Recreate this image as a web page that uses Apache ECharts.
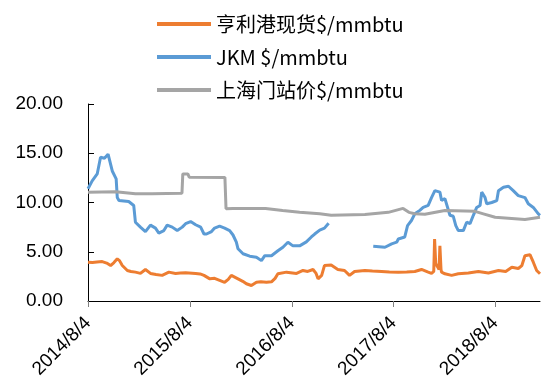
<!DOCTYPE html>
<html><head><meta charset="utf-8">
<script src="https://cdn.jsdelivr.net/npm/echarts@6/dist/echarts.min.js"></script>
<style>html,body{margin:0;padding:0;background:#fff}#c{width:542px;height:385px}</style>
</head><body><div id="c"></div>
<script>
const seriesNames = ['亨利港现货$/mmbtu', 'JKM $/mmbtu', '上海门站价$/mmbtu'];
const xTickLabels = ['2014/8/4', '2015/8/4', '2016/8/4', '2017/8/4', '2018/8/4'];
const xStart = '2014-08-04';
const xEnd = '2019-01-11';
const yTicks = [0, 5, 10, 15, 20];

const henryDates = ['2014-08-04','2014-08-20','2014-09-05','2014-09-24','2014-10-10','2014-10-24','2014-11-05','2014-11-17','2014-11-25','2014-12-05','2014-12-23','2015-01-05','2015-01-21','2015-02-08','2015-02-26','2015-03-16','2015-04-05','2015-04-27','2015-05-21','2015-06-14','2015-07-01','2015-07-20','2015-08-25','2015-09-10','2015-09-24','2015-10-15','2015-11-01','2015-11-19','2015-12-07','2015-12-20','2015-12-31','2016-01-24','2016-02-10','2016-02-23','2016-03-12','2016-03-30','2016-04-15','2016-05-05','2016-05-23','2016-06-05','2016-06-15','2016-07-16','2016-08-21','2016-09-13','2016-09-30','2016-10-19','2016-10-30','2016-11-06','2016-11-19','2016-11-29','2016-12-23','2017-01-16','2017-02-09','2017-02-27','2017-03-17','2017-04-23','2017-05-20','2017-06-22','2017-07-20','2017-08-21','2017-09-20','2017-10-19','2017-11-12','2017-12-06','2017-12-18','2017-12-26','2017-12-29','2018-01-02','2018-01-09','2018-01-14','2018-01-17','2018-01-21','2018-01-23','2018-02-04','2018-02-28','2018-03-24','2018-04-29','2018-06-04','2018-07-10','2018-08-15','2018-09-10','2018-10-02','2018-10-25','2018-11-07','2018-11-18','2018-12-06','2018-12-18','2018-12-30','2019-01-11'];
const henryValues = [3.94,3.9,3.95,4.0,3.85,3.6,3.9,4.28,4.1,3.6,3.1,3.0,2.93,2.8,3.2,2.8,2.7,2.6,2.93,2.8,2.85,2.88,2.8,2.75,2.6,2.25,2.3,2.1,1.9,2.2,2.6,2.25,2.0,1.75,1.57,1.9,1.95,1.9,1.95,2.3,2.76,2.93,2.8,3.1,3.0,3.2,2.8,2.25,2.6,3.6,3.65,3.2,3.1,2.6,3.0,3.1,3.05,3.0,2.95,2.93,2.95,3.0,3.2,2.93,2.8,3.0,6.3,3.8,3.6,3.2,5.6,3.2,2.93,2.76,2.6,2.76,2.85,3.0,2.85,3.1,3.0,3.43,3.3,3.6,4.6,4.7,3.94,3.1,2.76];

const jkmDates = ['2014-08-04','2014-08-19','2014-09-06','2014-09-18','2014-10-02','2014-10-15','2014-10-30','2014-11-13','2014-11-17','2014-11-23','2014-12-28','2015-01-15','2015-01-21','2015-02-08','2015-02-26','2015-03-16','2015-04-03','2015-04-15','2015-05-03','2015-05-15','2015-06-02','2015-06-20','2015-07-08','2015-07-20','2015-08-07','2015-08-25','2015-09-12','2015-09-24','2015-10-03','2015-10-21','2015-11-01','2015-11-19','2015-12-07','2015-12-25','2016-01-06','2016-01-18','2016-01-24','2016-02-11','2016-03-06','2016-03-30','2016-04-17','2016-04-29','2016-05-23','2016-06-15','2016-07-03','2016-07-21','2016-08-08','2016-09-01','2016-09-25','2016-10-13','2016-10-25','2016-11-12','2016-11-29','2016-12-14','2017-03-01','2017-05-23','2017-07-04','2017-07-28','2017-08-15','2017-08-21','2017-09-13','2017-09-23','2017-10-07','2017-10-19','2017-11-06','2017-11-18','2017-12-06','2017-12-18','2017-12-30','2018-01-05','2018-01-17','2018-01-23','2018-02-04','2018-02-10','2018-02-22','2018-03-06','2018-03-15','2018-03-24','2018-04-11','2018-04-23','2018-05-05','2018-05-17','2018-05-29','2018-06-10','2018-06-16','2018-06-28','2018-07-04','2018-07-22','2018-08-09','2018-08-15','2018-09-02','2018-09-20','2018-10-07','2018-10-25','2018-11-18','2018-11-30','2018-12-18','2019-01-05','2019-01-11'];
const jkmValues = [11.4,12.2,12.9,14.6,14.5,14.9,13.2,12.4,10.5,10.2,10.1,9.7,8.0,7.5,7.05,7.7,7.4,6.9,7.15,7.7,7.5,7.15,7.5,7.85,8.07,7.74,7.5,6.8,6.8,7.05,7.4,7.6,7.4,7.15,6.7,5.97,5.3,4.8,4.55,4.45,4.1,4.6,4.6,5.1,5.46,5.97,5.6,5.6,6.0,6.5,6.8,7.2,7.4,7.9,null,5.56,5.46,5.8,5.97,6.3,6.5,7.66,8.17,8.85,9.2,9.5,9.7,10.5,11.2,11.2,11.05,10.2,10.4,10.3,8.7,8.6,7.66,7.15,7.15,8.0,7.85,8.7,9.5,9.7,11.05,10.5,9.87,10.0,10.2,11.2,11.55,11.65,11.2,10.7,10.5,9.87,9.5,8.85,8.7];

const shDates = ['2014-08-04','2014-11-11','2015-01-21','2015-03-22','2015-07-07','2015-07-10','2015-07-28','2015-08-02','2015-12-08','2015-12-12','2016-01-06','2016-05-02','2016-07-02','2016-09-01','2016-11-12','2016-12-23','2017-04-23','2017-07-16','2017-09-07','2017-09-28','2017-10-19','2017-11-24','2018-02-04','2018-05-23','2018-06-22','2018-08-03','2018-11-18','2019-01-11'];
const shValues = [11.05,11.1,10.9,10.9,10.95,12.9,12.9,12.57,12.55,9.36,9.4,9.4,9.19,9.0,8.85,8.7,8.77,9.0,9.4,9.0,8.85,8.8,9.19,9.1,8.85,8.5,8.27,8.5];

function dayOf(s) {
  const p = s.replace(/\//g, '-').split('-').map(Number);
  const q = xStart.split('-').map(Number);
  return (Date.UTC(p[0], p[1] - 1, p[2]) - Date.UTC(q[0], q[1] - 1, q[2])) / 86400000;
}
function pairs(dates, vals) { return dates.map((d, i) => [dayOf(d), vals[i]]); }
const tickPos = xTickLabels.map(dayOf);

const chart = echarts.init(document.getElementById('c'));
chart.setOption({
  animation: false,
  color: ['#ED7D31', '#5B9BD5', '#A5A5A5'],
  legend: {
    orient: 'vertical', left: 152, top: 7,
    itemWidth: 54, itemHeight: 4, itemGap: 9, icon: 'rect',
    textStyle: { fontFamily: 'Noto Sans CJK SC', fontSize: 20, color: '#000', lineHeight: 24 },
    data: seriesNames
  },
  grid: { left: 88, right: 2, top: 104, bottom: 84, containLabel: false },
  xAxis: {
    type: 'value', min: 0, max: dayOf(xEnd),
    axisLine: { show: true, onZero: true, lineStyle: { color: '#000', width: 1 } },
    axisTick: { show: true, inside: false, length: 6, customValues: tickPos, lineStyle: { color: '#808080' } },
    splitLine: { show: false },
    axisLabel: {
      customValues: tickPos, rotate: 45, margin: 19,
      fontFamily: 'Liberation Sans', fontSize: 19, color: '#000',
      formatter: v => xTickLabels[tickPos.indexOf(v)] || ''
    }
  },
  yAxis: {
    type: 'value', min: yTicks[0], max: yTicks[yTicks.length - 1], interval: 5,
    axisLine: { show: true, lineStyle: { color: '#000', width: 1 } },
    axisTick: { show: true, inside: true, length: 6, lineStyle: { color: '#000' } },
    splitLine: { show: false },
    axisLabel: { margin: 25, fontFamily: 'Liberation Sans', fontSize: 19, color: '#000', formatter: v => v.toFixed(2) }
  },
  series: [
    { name: seriesNames[0], type: 'line', showSymbol: false, symbol: 'none', connectNulls: false, lineStyle: { width: 3 }, data: pairs(henryDates, henryValues) },
    { name: seriesNames[1], type: 'line', showSymbol: false, symbol: 'none', connectNulls: false, lineStyle: { width: 3 }, data: pairs(jkmDates, jkmValues) },
    { name: seriesNames[2], type: 'line', showSymbol: false, symbol: 'none', connectNulls: false, lineStyle: { width: 3 }, data: pairs(shDates, shValues) }
  ]
});
</script></body></html>
